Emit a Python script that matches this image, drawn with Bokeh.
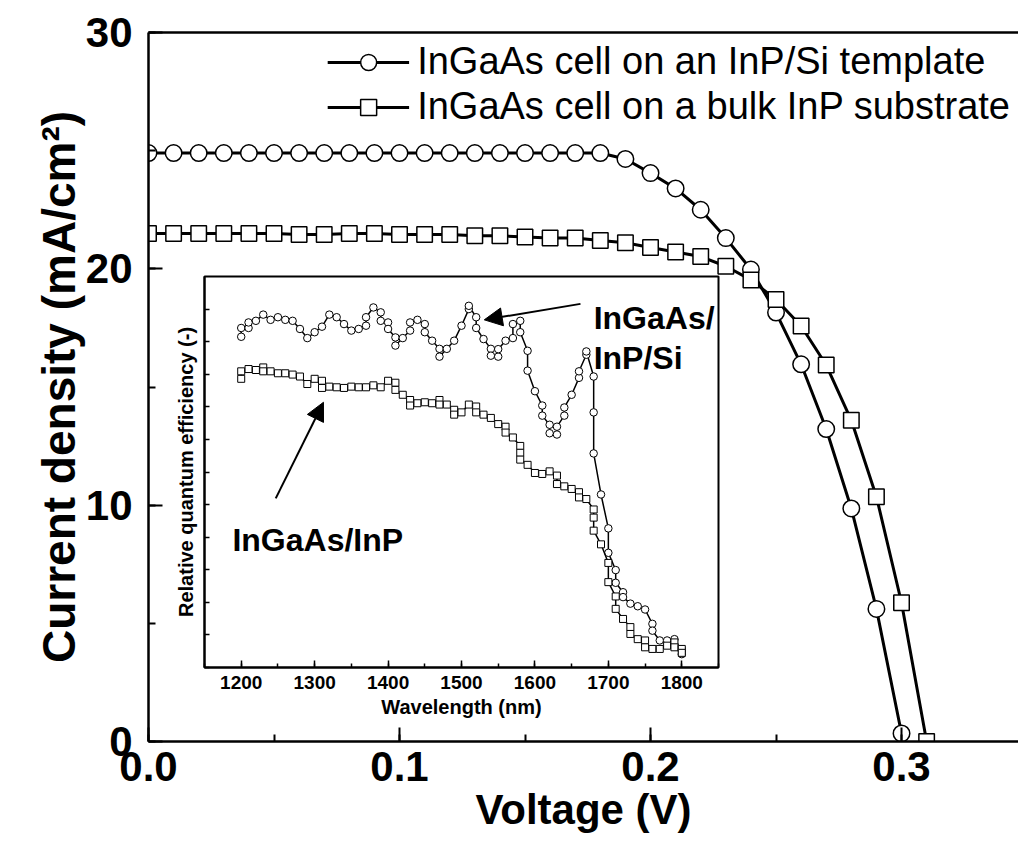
from bokeh.plotting import figure
from bokeh.models import (Range1d, LinearAxis, SingleIntervalTicker, FixedTicker, Legend,
                          LegendItem, Arrow, NormalHead, Label, PrintfTickFormatter,
                          CustomJSTickFormatter)
from bokeh.embed import file_html
from bokeh.resources import INLINE

FONT = "Liberation Sans"

# ---------------- main J-V data ----------------
voltage_si = [0.00, 0.01, 0.02, 0.03, 0.04, 0.05, 0.06, 0.07, 0.08, 0.09, 0.10,
              0.11, 0.12, 0.13, 0.14, 0.15, 0.16, 0.17, 0.18, 0.19, 0.20,
              0.21, 0.22, 0.23, 0.24, 0.25, 0.26, 0.27, 0.28, 0.29, 0.30]
current_si = [24.9, 24.9, 24.9, 24.9, 24.9, 24.9, 24.9, 24.9, 24.9, 24.9, 24.9,
              24.9, 24.9, 24.9, 24.9, 24.9, 24.9, 24.9, 24.9, 24.65, 24.05,
              23.4, 22.5, 21.3, 19.97, 18.15, 15.96, 13.22, 9.86, 5.61, 0.34]

voltage_bulk = [0.00, 0.01, 0.02, 0.03, 0.04, 0.05, 0.06, 0.07, 0.08, 0.09, 0.10,
                0.11, 0.12, 0.13, 0.14, 0.15, 0.16, 0.17, 0.18, 0.19, 0.20,
                0.21, 0.22, 0.23, 0.24, 0.25, 0.26, 0.27, 0.28, 0.29, 0.30, 0.31]
current_bulk = [21.5, 21.5, 21.5, 21.5, 21.5, 21.5, 21.45, 21.45, 21.5, 21.5, 21.45,
                21.45, 21.45, 21.4, 21.4, 21.35, 21.3, 21.3, 21.2, 21.1, 20.9,
                20.71, 20.52, 20.11, 19.53, 18.70, 17.58, 15.93, 13.59, 10.36, 5.87, 0.0]

# ---------------- inset: relative quantum efficiency ----------------
wavelength_si = [1200, 1200, 1210, 1210, 1220, 1230, 1240, 1250, 1260, 1270, 1280, 1290,
                 1300, 1310, 1320, 1330, 1340, 1350, 1360, 1370, 1370, 1380, 1390, 1390,
                 1400, 1400, 1410, 1410, 1420, 1430, 1430, 1440, 1450, 1450, 1460, 1470,
                 1470, 1480, 1490, 1500, 1510, 1510, 1520, 1520, 1530, 1540, 1540, 1550,
                 1550, 1560, 1570, 1570, 1580, 1580, 1590, 1590, 1600, 1610, 1610, 1620,
                 1620, 1630, 1630, 1640, 1640, 1650, 1660, 1660, 1670, 1670, 1680, 1680,
                 1680, 1690, 1700, 1700, 1710, 1710, 1720, 1720, 1730, 1740, 1750, 1760,
                 1760, 1770, 1780, 1790, 1790, 1800, 1800]
qe_si = [1.015, 1.042, 1.042, 1.059, 1.064, 1.083, 1.067, 1.075, 1.067, 1.064, 1.039, 1.011,
         1.029, 1.046, 1.083, 1.075, 1.054, 1.034, 1.039, 1.049, 1.075, 1.105, 1.090, 1.064,
         1.059, 1.039, 1.013, 0.988, 1.011, 1.034, 1.059, 1.067, 1.054, 1.029, 1.003, 0.978,
         0.954, 0.978, 1.003, 1.049, 1.100, 1.110, 1.075, 1.042, 1.008, 0.978, 0.957, 0.954,
         0.977, 1.003, 1.011, 1.054, 1.064, 1.029, 0.972, 0.911, 0.848, 0.804, 0.773, 0.745,
         0.719, 0.715, 0.739, 0.773, 0.798, 0.837, 0.889, 0.909, 0.960, 0.970, 0.893, 0.783,
         0.657, 0.531, 0.427, 0.352, 0.299, 0.260, 0.231, 0.216, 0.196, 0.188, 0.178, 0.134,
         0.113, 0.083, 0.083, 0.087, 0.070, 0.055, 0.041]

wavelength_bulk = [1200, 1200, 1210, 1220, 1230, 1230, 1240, 1250, 1260, 1270, 1280, 1290,
                   1300, 1310, 1310, 1320, 1330, 1340, 1350, 1360, 1370, 1380, 1390, 1400,
                   1410, 1410, 1420, 1430, 1430, 1440, 1450, 1460, 1470, 1470, 1480, 1490,
                   1490, 1500, 1510, 1520, 1520, 1530, 1540, 1550, 1560, 1560, 1570, 1580,
                   1580, 1580, 1590, 1600, 1610, 1620, 1630, 1630, 1640, 1650, 1660, 1660,
                   1670, 1680, 1680, 1680, 1690, 1700, 1700, 1710, 1710, 1720, 1730, 1730,
                   1740, 1750, 1750, 1760, 1770, 1780, 1790, 1790, 1800, 1800]
qe_bulk = [0.886, 0.909, 0.916, 0.913, 0.921, 0.909, 0.909, 0.903, 0.903, 0.899, 0.893, 0.870,
           0.886, 0.880, 0.858, 0.862, 0.860, 0.858, 0.862, 0.860, 0.860, 0.866, 0.860, 0.880,
           0.874, 0.852, 0.837, 0.821, 0.804, 0.811, 0.814, 0.811, 0.821, 0.807, 0.807, 0.791,
           0.776, 0.783, 0.807, 0.801, 0.783, 0.776, 0.766, 0.747, 0.739, 0.721, 0.706, 0.680,
           0.659, 0.638, 0.622, 0.597, 0.594, 0.602, 0.589, 0.563, 0.556, 0.548, 0.538, 0.522,
           0.517, 0.485, 0.460, 0.420, 0.378, 0.321, 0.262, 0.218, 0.180, 0.149, 0.124, 0.103,
           0.087, 0.083, 0.062, 0.057, 0.057, 0.067, 0.077, 0.062, 0.057, 0.045]

label_si = "InGaAs cell on an InP/Si template"
label_bulk = "InGaAs cell on a bulk InP substrate"

# ---------------- main figure ----------------
p = figure(width=1010, height=844, x_range=Range1d(0, 0.3466), y_range=Range1d(0, 30),
           output_backend="svg", toolbar_location=None, x_axis_type=None, y_axis_type=None,
           min_border_left=140, min_border_right=0, min_border_top=24, min_border_bottom=111)
p.outline_line_color = None
p.background_fill_color = "white"
p.border_fill_color = "white"


def style_main_axis(ax):
    ax.axis_line_width = 2.5
    ax.axis_line_color = "black"
    ax.major_tick_in = 14
    ax.major_tick_out = 0
    ax.minor_tick_in = 7
    ax.minor_tick_out = 0
    ax.major_tick_line_width = 2
    ax.minor_tick_line_width = 2
    ax.major_label_text_font = FONT
    ax.major_label_text_font_style = "bold"
    ax.major_label_text_font_size = "42px"
    ax.major_label_text_color = "black"
    ax.axis_label_text_font = FONT
    ax.axis_label_text_font_style = "bold"
    ax.axis_label_text_color = "black"


xaxis = LinearAxis(ticker=SingleIntervalTicker(interval=0.1, num_minor_ticks=2),
                   formatter=PrintfTickFormatter(format="%.1f"), axis_label="Voltage (V)")
style_main_axis(xaxis)
xaxis.axis_label_text_font_size = "42px"
xaxis.major_label_standoff = 10
xaxis.axis_label_standoff = 2
p.add_layout(xaxis, "below")

yaxis = LinearAxis(ticker=SingleIntervalTicker(interval=10, num_minor_ticks=2),
                   axis_label="Current density (mA/cm²)")
style_main_axis(yaxis)
yaxis.axis_label_text_font_size = "46px"
yaxis.major_label_standoff = 16
yaxis.axis_label_standoff = -2
p.add_layout(yaxis, "left")

topaxis = LinearAxis(ticker=FixedTicker(ticks=[]), major_tick_out=0, minor_tick_out=0,
                     major_label_standoff=0, axis_line_width=2.5, axis_line_color="black")
p.add_layout(topaxis, "above")

l_si = p.line(voltage_si, current_si, line_color="black", line_width=3)
s_si = p.scatter(voltage_si, current_si, marker="circle", size=16.5, fill_color="white",
                 line_color="black", line_width=1.5)
l_bulk = p.line(voltage_bulk, current_bulk, line_color="black", line_width=3)
s_bulk = p.scatter(voltage_bulk, current_bulk, marker="square", size=15.5, fill_color="white",
                   line_color="black", line_width=1.5)

legend = Legend(items=[LegendItem(label=label_si, renderers=[l_si, s_si]),
                       LegendItem(label=label_bulk, renderers=[l_bulk, s_bulk])],
                location="top_right", orientation="vertical",
                background_fill_alpha=0, border_line_color=None,
                label_text_font=FONT, label_text_font_size="38px", label_text_color="black",
                glyph_width=82, glyph_height=40, label_height=40, label_standoff=8,
                spacing=2, padding=0, margin=8)
p.add_layout(legend)
p.styles = {"position": "absolute", "left": "8px", "top": "8px"}

# ---------------- inset figure ----------------
ins = figure(width=554, height=455, x_range=Range1d(1150, 1850), y_range=Range1d(0, 1.2),
             output_backend="svg", toolbar_location=None, x_axis_type=None, y_axis_type=None,
             min_border_left=36, min_border_right=4, min_border_top=4, min_border_bottom=60)
ins.border_fill_color = None
ins.background_fill_color = "white"
ins.outline_line_color = "black"
ins.outline_line_width = 2

ix = LinearAxis(ticker=SingleIntervalTicker(interval=100, num_minor_ticks=2),
                axis_label="Wavelength (nm)")
iy = LinearAxis(ticker=SingleIntervalTicker(interval=0.1, num_minor_ticks=0),
                formatter=CustomJSTickFormatter(code="return ''"),
                axis_label="Relative quantum efficiency (-)")
for ax in (ix, iy):
    ax.axis_line_width = 2
    ax.axis_line_color = "black"
    ax.major_tick_out = 0
    ax.minor_tick_out = 0
    ax.major_tick_line_width = 1.5
    ax.minor_tick_line_width = 1.5
    ax.major_label_text_font = FONT
    ax.major_label_text_font_style = "bold"
    ax.major_label_text_color = "black"
    ax.axis_label_text_font = FONT
    ax.axis_label_text_font_style = "bold"
    ax.axis_label_text_font_size = "20px"
    ax.axis_label_text_color = "black"
ix.major_tick_in = 7
ix.minor_tick_in = 4
ix.major_label_text_font_size = "19px"
ix.major_label_standoff = 8
ix.axis_label_standoff = 4
iy.major_tick_in = 5
iy.major_label_standoff = 0
iy.axis_label_standoff = 8
ins.add_layout(ix, "below")
ins.add_layout(iy, "left")

ins.line(wavelength_si, qe_si, line_color="black", line_width=1.5)
ins.scatter(wavelength_si, qe_si, marker="circle", size=7.5, fill_color="white",
            line_color="black", line_width=1)
ins.line(wavelength_bulk, qe_bulk, line_color="black", line_width=1.5)
ins.scatter(wavelength_bulk, qe_bulk, marker="square", size=7, fill_color="white",
            line_color="black", line_width=1)

ins.add_layout(Arrow(end=NormalHead(size=18, fill_color="black", line_color="black"),
                     x_start=1662, y_start=1.116, x_end=1531, y_end=1.067,
                     line_color="black", line_width=2))
ins.add_layout(Arrow(end=NormalHead(size=18, fill_color="black", line_color="black"),
                     x_start=1247, y_start=0.519, x_end=1312, y_end=0.814,
                     line_color="black", line_width=2))
for txt, xx, yy in (("InGaAs/", 1680, 1.074), ("InP/Si", 1680, 0.951), ("InGaAs/InP", 1188, 0.39)):
    ins.add_layout(Label(x=xx, y=yy, text=txt, text_font=FONT, text_font_style="bold",
                         text_font_size="32px", text_color="black", text_baseline="alphabetic"))

ins.styles = {"position": "absolute", "left": "168px", "top": "272px"}

open("out.html", "w").write(file_html([p, ins], INLINE))
